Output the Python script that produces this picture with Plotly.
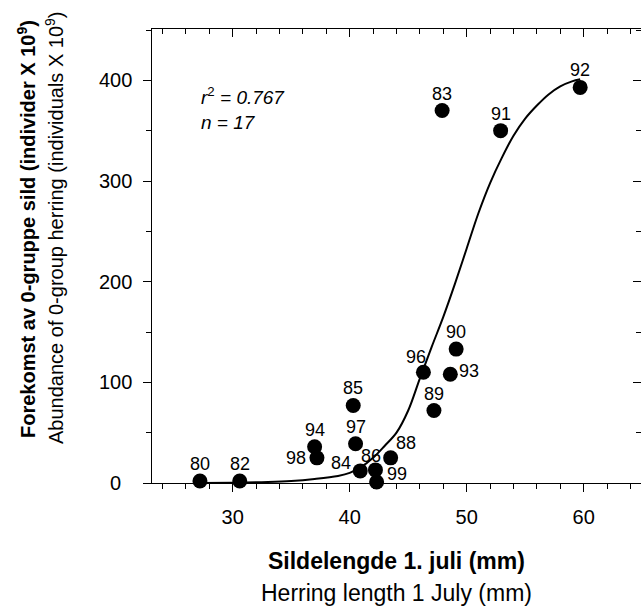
import plotly.graph_objects as go

# ---- data ----
years = ["80", "82", "83", "84", "85", "86", "88", "89", "90", "91", "92", "93", "94", "96", "97", "98", "99"]
length_mm = [27.2, 30.6, 47.9, 40.9, 40.3, 42.2, 43.5, 47.2, 49.1, 52.9, 59.7, 48.6, 37.0, 46.3, 40.5, 37.2, 42.3]
abundance = [2, 2, 370, 12, 77, 13, 25, 72, 133, 350, 393, 108, 36, 110, 39, 25, 1]

curve_x = [27.3, 30, 33, 35, 37, 39, 40, 41, 42, 43, 44, 45, 46, 47, 48, 49, 50, 51, 52, 53, 54, 55, 56, 57, 58, 59, 59.7]
curve_y = [0, 0.3, 1, 2, 4, 7, 10, 16, 25, 37, 50, 72, 104, 135, 165, 198, 233, 268, 298, 323, 345, 362, 375, 386, 394, 399, 401]

x_ticks = [30, 40, 50, 60]
y_ticks = [0, 100, 200, 300, 400]

x_title = ["Sildelengde 1. juli (mm)", "Herring length 1 July (mm)"]
y_title = ["Forekomst av 0-gruppe sild (individer X 10<sup>9</sup>)",
           "Abundance of 0-group herring (individuals X 10<sup>9</sup>)"]

# ---- styling (label offsets in px) ----
label_offsets = {
    "98": (-21, 0), "84": (-19, 8), "86": (-4, 14), "99": (20, 8),
    "88": (15, 15), "96": (-7, 15), "93": (19, 3),
}
default_offset = (0, 17)

FONT = "Liberation Sans, Arial, sans-serif"
X_RANGE = [23.1, 64.9]
Y_RANGE = [0, 451]
L, R, T, B = 152, 0, 29, 126
W, H = 641, 609
PW, PH = W - L - R, H - T - B

def px_to_paper_x(px):
    return (px - L) / PW

def px_to_paper_y(py):
    return (H - B - py) / PH

fig = go.Figure()

fig.add_trace(go.Scatter(
    x=curve_x, y=curve_y, mode="lines", line=dict(color="black", width=2, shape="spline"),
    cliponaxis=False, hoverinfo="skip", showlegend=False, xaxis="x", yaxis="y",
))
fig.add_trace(go.Scatter(
    x=length_mm, y=abundance, mode="markers",
    marker=dict(color="black", size=15, line=dict(width=0)),
    cliponaxis=False, showlegend=False, xaxis="x2", yaxis="y2",
))

annotations = []
for lab, xv, yv in zip(years, length_mm, abundance):
    dx, dy = label_offsets.get(lab, default_offset)
    annotations.append(dict(
        x=xv, y=yv, xref="x", yref="y", text=lab, showarrow=False,
        xshift=dx, yshift=dy, xanchor="center", yanchor="middle",
        font=dict(family=FONT, size=18, color="black"),
    ))

for v in y_ticks:
    annotations.append(dict(
        x=px_to_paper_x(115), y=v, xref="paper", yref="y", text=str(v), showarrow=False,
        xanchor="center", yanchor="middle", font=dict(family=FONT, size=20, color="black"),
    ))

annotations.append(dict(
    x=px_to_paper_x(199), y=px_to_paper_y(108), xref="paper", yref="paper",
    text="<i>r</i><sup>2</sup><i> = 0.767</i><br><i>n = 17</i>", showarrow=False,
    xanchor="left", yanchor="middle", align="left",
    font=dict(family=FONT, size=19, color="black"),
))

annotations.append(dict(
    x=px_to_paper_x(396), y=px_to_paper_y(561), xref="paper", yref="paper",
    text="<b>" + x_title[0] + "</b>", showarrow=False,
    xanchor="center", yanchor="middle", font=dict(family=FONT, size=23, color="black"),
))
annotations.append(dict(
    x=px_to_paper_x(396), y=px_to_paper_y(593), xref="paper", yref="paper",
    text=x_title[1], showarrow=False,
    xanchor="center", yanchor="middle", font=dict(family=FONT, size=23, color="black"),
))

annotations.append(dict(
    x=px_to_paper_x(26), y=px_to_paper_y(229), xref="paper", yref="paper",
    text="<b>" + y_title[0] + "</b>", showarrow=False, textangle=-90,
    xanchor="center", yanchor="middle", font=dict(family=FONT, size=20, color="black"),
))
annotations.append(dict(
    x=px_to_paper_x(55), y=px_to_paper_y(228), xref="paper", yref="paper",
    text=y_title[1], showarrow=False, textangle=-90,
    xanchor="center", yanchor="middle", font=dict(family=FONT, size=20, color="black"),
))

common_x = dict(range=X_RANGE, showgrid=False, zeroline=False, tickvals=x_ticks,
                tickcolor="black", tickwidth=1.3, ticklen=8, linecolor="black", linewidth=1.3)
common_y = dict(range=Y_RANGE, showgrid=False, zeroline=False, tickvals=y_ticks,
                tickcolor="black", tickwidth=1.3, ticklen=8, linecolor="black", linewidth=1.3)

fig.update_layout(
    width=W, height=H, margin=dict(l=L, r=R, t=T, b=B, pad=0),
    paper_bgcolor="white", plot_bgcolor="white",
    font=dict(family=FONT, size=20, color="black"),
    xaxis=dict(**common_x, ticks="outside", showline=True, side="bottom",
               showticklabels=True, ticklabelstandoff=8,
               tickfont=dict(family=FONT, size=20, color="black"),
               minor=dict(dtick=2, tick0=0, ticks="outside", ticklen=5, tickcolor="black", tickwidth=1.3)),
    yaxis=dict(**common_y, ticks="outside", showline=True, side="left", showticklabels=False,
               minor=dict(dtick=50, tick0=0, ticks="outside", ticklen=5, tickcolor="black", tickwidth=1.3)),
    xaxis2=dict(**common_x, ticks="inside", showline=True, side="top", overlaying="x", anchor="y",
                showticklabels=False,
                minor=dict(dtick=2, tick0=0, ticks="inside", ticklen=5, tickcolor="black", tickwidth=1.3)),
    yaxis2=dict(**common_y, ticks="inside", showline=False, side="right", overlaying="y", anchor="x",
                showticklabels=False,
                minor=dict(dtick=50, tick0=0, ticks="inside", ticklen=5, tickcolor="black", tickwidth=1.3)),
    annotations=annotations,
    showlegend=False,
)

fig.write_html("out.html")
